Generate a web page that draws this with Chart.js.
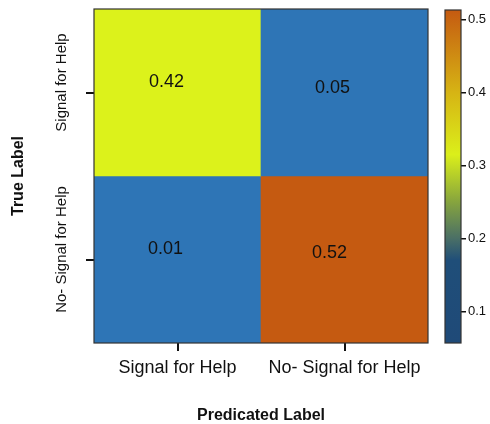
<!DOCTYPE html>
<html>
<head>
<meta charset="utf-8">
<script src="https://cdn.jsdelivr.net/npm/chart.js@4"></script>
<style>
  html, body { margin: 0; padding: 0; background: #fff; }
  #wrap { position: relative; width: 490px; height: 424px; }
  #main { position: absolute; left: 0; top: 0; }
  #cbar { position: absolute; left: 430px; top: 0; }
</style>
</head>
<body>
<div id="wrap">
  <canvas id="main" width="490" height="424"></canvas>
  <canvas id="cbar" width="60" height="424"></canvas>
</div>
<script>
// ---- data ----
const predLabels = ['Signal for Help', 'No- Signal for Help'];
const trueLabels = ['Signal for Help', 'No- Signal for Help'];
const rowSignal = [0.42, 0.05];
const rowNoSignal = [0.01, 0.52];
const values = [rowSignal, rowNoSignal];
const colorbarTicks = [0.1, 0.2, 0.3, 0.4, 0.5];
const colorbarMin = 0.057;
const colorbarMax = 0.513;

// ---- styles ----
const FONT = '"Liberation Sans", Arial, sans-serif';
const cellColors = [['#dcf21b', '#2e75b6'], ['#2e75b6', '#c55a11']];
const cellTextShift = [[[-11, -10], [-12, -4]], [[-12, -10], [-15, -6]]];
const cbStops = [
  [0.057, '#1f4a78'], [0.170, '#1f4e79'], [0.200, '#4a6f66'], [0.250, '#86a43e'],
  [0.315, '#dbef1a'], [0.400, '#d6b414'], [0.513, '#c55a11']
];

const borderPlugin = {
  id: 'frame',
  afterDatasetsDraw(chart) {
    const a = chart.chartArea, c = chart.ctx;
    c.save();
    c.strokeStyle = '#333';
    c.lineWidth = 1.2;
    c.strokeRect(a.left, a.top, a.right - a.left, a.bottom - a.top);
    c.restore();
  }
};

const cellTextPlugin = {
  id: 'cellText',
  afterDatasetsDraw(chart) {
    const c = chart.ctx, xs = chart.scales.x, ys = chart.scales.y;
    c.save();
    c.fillStyle = '#111';
    c.font = '18px ' + FONT;
    c.textAlign = 'center';
    c.textBaseline = 'middle';
    values.forEach((row, r) => row.forEach((v, col) => {
      const [dx, dy] = cellTextShift[r][col];
      const x = xs.getPixelForValue(col) + dx;
      const y = ys.getPixelForValue(r + 0.5) + dy;
      c.fillText(v.toFixed(2), x, y);
    }));
    // rotated y tick labels
    c.font = '15px ' + FONT;
    trueLabels.forEach((lab, r) => {
      const y = ys.getPixelForValue(r + 0.5) - 10;
      c.save();
      c.translate(62, y);
      c.rotate(-Math.PI / 2);
      c.fillText(lab, 0, 0);
      c.restore();
    });
    c.restore();
  }
};

new Chart(document.getElementById('main'), {
  type: 'bar',
  data: {
    labels: predLabels,
    datasets: values.map((row, r) => ({
      label: trueLabels[r],
      data: row.map(() => [r, r + 1]),
      backgroundColor: cellColors[r],
      borderWidth: 0,
      barPercentage: 1,
      categoryPercentage: 1
    }))
  },
  options: {
    responsive: false,
    animation: false,
    events: [],
    layout: { padding: { top: 9, right: 62, left: 0, bottom: 0 } },
    plugins: { legend: { display: false }, tooltip: { enabled: false } },
    scales: {
      x: {
        stacked: true,
        afterFit(s) { s.height = 81; },
        grid: { offset: false, drawOnChartArea: false, drawTicks: true, tickLength: 8, color: '#111', lineWidth: 2 },
        border: { display: false },
        ticks: { color: '#111', font: { family: FONT, size: 18 }, padding: 6, maxRotation: 0 },
        title: { display: true, text: 'Predicated Label', color: '#111', font: { family: FONT, size: 16, weight: 'bold', lineHeight: 1 }, padding: { top: 0, bottom: 0 } }
      },
      y: {
        type: 'linear',
        min: 0, max: 2, reverse: true,
        afterFit(s) { s.width = 94; },
        afterBuildTicks(s) { s.ticks = trueLabels.map((_, i) => ({ value: i + 0.5 })); },
        grid: { drawOnChartArea: false, drawTicks: true, tickLength: 8, color: '#111', lineWidth: 2 },
        border: { display: false },
        ticks: { display: false },
        title: { display: true, text: 'True Label', color: '#111', font: { family: FONT, size: 16, weight: 'bold' }, padding: { top: 9, bottom: 0 } }
      }
    }
  },
  plugins: [borderPlugin, cellTextPlugin]
});

new Chart(document.getElementById('cbar'), {
  type: 'bar',
  data: {
    labels: [''],
    datasets: [{
      data: [[colorbarMin, colorbarMax]],
      borderWidth: 0,
      barPercentage: 1,
      categoryPercentage: 1,
      backgroundColor(ctx) {
        const ch = ctx.chart, a = ch.chartArea;
        if (!a) return '#1f4e79';
        const g = ch.ctx.createLinearGradient(0, a.bottom, 0, a.top);
        cbStops.forEach(([v, col]) => g.addColorStop((v - colorbarMin) / (colorbarMax - colorbarMin), col));
        return g;
      }
    }]
  },
  options: {
    responsive: false,
    animation: false,
    events: [],
    layout: { padding: { top: 10, left: 15, bottom: 81, right: 0 } },
    plugins: { legend: { display: false }, tooltip: { enabled: false } },
    scales: {
      x: { display: false },
      y: {
        position: 'right',
        min: colorbarMin, max: colorbarMax,
        afterFit(s) { s.width = 29; },
        afterBuildTicks(s) { s.ticks = colorbarTicks.map(v => ({ value: v })); },
        grid: { drawOnChartArea: false, drawTicks: true, tickLength: 5, color: '#111', lineWidth: 1.5 },
        border: { display: false },
        ticks: { color: '#111', font: { family: FONT, size: 13 }, padding: 2, callback: v => String(v) }
      }
    }
  },
  plugins: [borderPlugin]
});
</script>
</body>
</html>
